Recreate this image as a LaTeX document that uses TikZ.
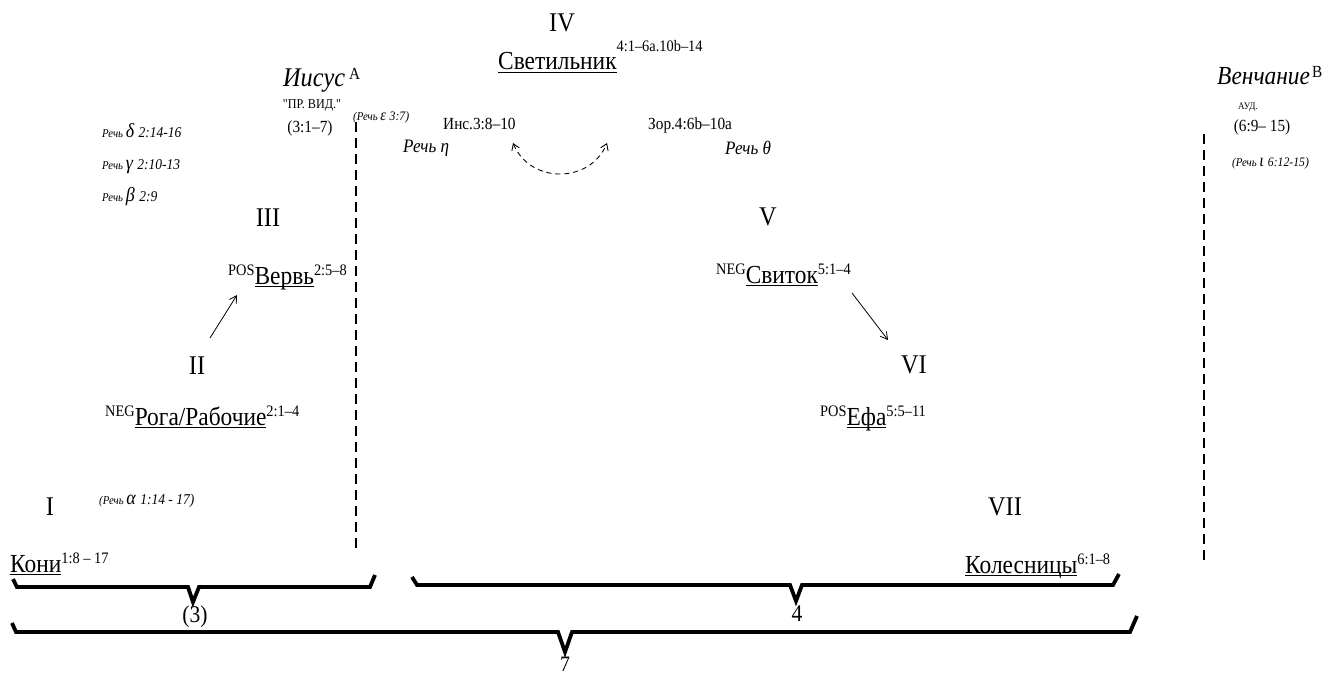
\documentclass[tikz,border=0pt]{standalone}
\usepackage{fontspec}
\setmainfont{Liberation Serif}[FakeStretch=0.9]
\usetikzlibrary{arrows.meta}
\newcommand{\fsz}[1]{\fontsize{#1}{#1}\selectfont}
\newcommand{\ulw}[1]{\setbox0\hbox{#1}\rlap{\rule[-3pt]{\wd0}{1pt}}\box0}
\newcommand{\mylab}[4][9pt]{\raisebox{#1}{\fsz{16}#2}\ulw{\fsz{26}#3}\raisebox{#1}{\fsz{16}#4}}
\newcommand{\rech}[3]{{\itshape\fsz{12}Речь~\fsz{20}#1~\fsz{15}#2#3}}
\tikzset{
  roman/.style={font=\fsz{27}, inner sep=0pt},
  lab/.style={anchor=base west, inner sep=0pt},
  small/.style={inner sep=0pt},
  brace/.style={line width=3.8pt, line join=miter, line cap=butt},
  vdash/.style={line width=1.2pt, dash pattern=on 10pt off 6pt},
  arr/.style={line width=0.8pt, -{Straight Barb[length=7pt,width=8pt]}},
}
\begin{document}
\begin{tikzpicture}[x=1pt,y=-1pt]
\useasboundingbox (0,0) rectangle (1339,674);

% roman numerals
\node[roman] (n4) at (562,23) {IV};
\node[roman] (n3) at (268,218) {III};
\node[roman] (n2) at (197,366) {II};
\node[roman] (n1) at (50,507) {I};
\node[roman] (n5) at (768,217) {V};
\node[roman] (n6) at (914,365) {VI};
\node[roman] (n7) at (1005,507) {VII};

% main labels
\node[lab] (svet) at (498,70) {\mylab[18pt]{}{Светильник}{4:1–6a.10b–14}};
\node[lab] (verv) at (228,284) {\mylab{POS}{Вервь}{2:5–8}};
\node[lab] (roga) at (105,425) {\mylab{NEG}{Рога/Рабочие}{2:1–4}};
\node[lab] (koni) at (10,572) {\mylab{}{Кони}{1:8 – 17}};
\node[lab] (svit) at (716,283) {\mylab{NEG}{Свиток}{5:1–4}};
\node[lab] (efa) at (820,425) {\mylab{POS}{Ефа}{5:5–11}};
\node[lab] (koles) at (965,573) {\mylab{}{Колесницы}{6:1–8}};

% Jesus / crowning
\node[lab] (iisus) at (283,87) {{\itshape\fsz{27}Иисус}\kern4pt\raisebox{7pt}{\fsz{17}A}};
\node[small] (prvid) at (312,106) {\fsz{13.5}\addfontfeature{Ligatures=TeXOff}"ПР. ВИД."};
\node[small] (ref31) at (310,128) {\fsz{17}(3:1–7)};
\node[lab] (venc) at (1217,85) {{\itshape\fsz{26}Венчание}\kern2pt\raisebox{7pt}{\fsz{17}B}};
\node[small] (aud) at (1248,107) {\fsz{10}АУД.};
\node[small] (ref69) at (1262,127) {\fsz{17}(6:9– 15)};

% speeches
\node[lab] (rd) at (102,138) {\rech{δ}{2:14-16}{}};
\node[lab] (rg) at (102,170) {\rech{γ}{2:10-13}{}};
\node[lab] (rb) at (102,201) {\rech{β}{2:9}{}};
\node[lab] (ra) at (99,504) {{\itshape\fsz{12}(}\rech{α}{1:14 - 17}{)}};
\node[lab] (re) at (353,121) {\itshape\fsz{12}(Речь~\fsz{16}ε~\fsz{13}3:7)};
\node[lab] (ri) at (1232,167) {\itshape\fsz{12}(Речь~\fsz{18}ι~\fsz{13}6:12-15)};
\node[lab] (reta) at (403,153) {\itshape\fsz{19}Речь η};
\node[lab] (rtheta) at (725,154) {\itshape\fsz{19}Речь θ};
\node[lab] (ins) at (443,130) {\fsz{17}Инс.3:8–10};
\node[lab] (zor) at (648,130) {\fsz{17}Зор.4:6b–10a};

% dashed double arrow between visions
\coordinate (da) at (513,143);
\coordinate (db) at (607,143);
\draw[line width=0.9pt, dash pattern=on 5pt off 4pt, {Straight Barb[length=6pt,width=8pt]}-{Straight Barb[length=6pt,width=8pt]}]
  (da) .. controls (530,184) and (590,184) .. (db);

% solid arrows
\coordinate (a2s) at (210,338);
\coordinate (a2e) at (237,295);
\draw[arr] (a2s) -- (a2e);
\coordinate (a5s) at (852,293);
\coordinate (a5e) at (888,340);
\draw[arr] (a5s) -- (a5e);

% vertical dashed lines
\coordinate (l1t) at (356,122);
\coordinate (l1b) at (356,553);
\draw[vdash] (l1t) -- (l1b);
\coordinate (l2t) at (1204,134);
\coordinate (l2b) at (1204,560);
\draw[vdash] (l2t) -- (l2b);

% braces
\draw[brace] (13,579) -- (17,587) -- (188,587) -- (193,602) -- (199,587) -- (370,587) -- (375,575);
\draw[brace] (412,577) -- (417,585) -- (790,585) -- (796,601) -- (802,585) -- (1113,585) -- (1119,574);
\draw[brace] (12,623) -- (16,632) -- (558,632) -- (565,652) -- (572,632) -- (1130,632) -- (1137,616);
\node[small] (b3) at (195,617) {\fsz{24}(3)};
\node[small] (b4) at (797,614) {\fsz{24}4};
\node[small] (b7) at (565,664) {\fsz{22}7};
\end{tikzpicture}
\end{document}
